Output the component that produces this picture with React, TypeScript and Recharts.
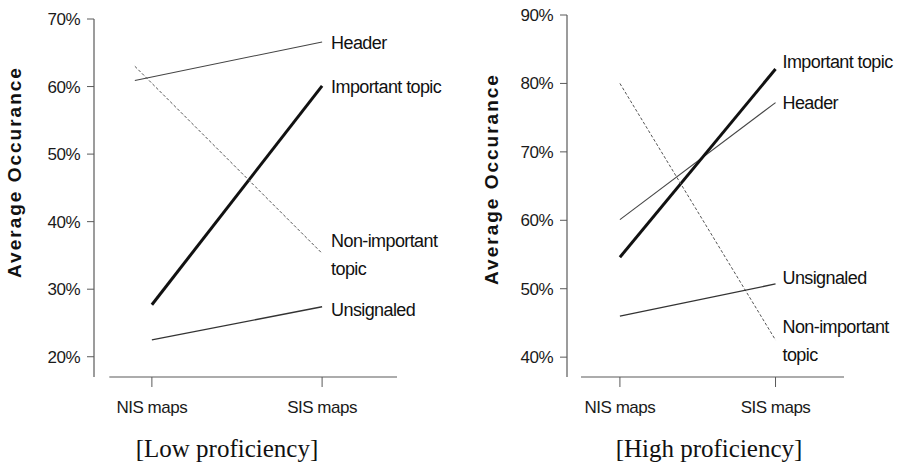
import React from "react";
import { LineChart, Line, XAxis, YAxis, ReferenceLine, LabelList } from "recharts";

const categories = ["NIS maps", "SIS maps"];
const seriesLabels = [["Header"], ["Important topic"], ["Non-important", "topic"], ["Unsignaled"]];

// [Low proficiency] panel, values in %
const lowHeader = [60.9, 66.6];
const lowImportant = [27.7, 60.1];
const lowNonImportant = [63.0, 35.3];
const lowUnsignaled = [22.5, 27.4];
const lowTicks = [20, 30, 40, 50, 60, 70];
// x where each line begins (0 = NIS maps, 1 = SIS maps)
const lowStarts = [-0.1, 0, -0.1, 0];

// [High proficiency] panel
const highHeader = [60.1, 77.2];
const highImportant = [54.6, 82.1];
const highNonImportant = [80.0, 42.5];
const highUnsignaled = [46.0, 50.7];
const highTicks = [40, 50, 60, 70, 80, 90];
const highStarts = [0, 0, 0, 0];

const SANS = '"Liberation Sans", Arial, sans-serif';
const SERIF = '"Liberation Serif", "Times New Roman", serif';
const AXIS = "#5a5a5a";

const lineStyles = [
  { stroke: "#444", width: 1.1, dash: undefined },
  { stroke: "#111", width: 3, dash: undefined },
  { stroke: "#555", width: 1, dash: "3 2" },
  { stroke: "#333", width: 1.3, dash: undefined },
];

function endLabel(props: any, i: number, dx: number, dy: number) {
  if (props.index !== 1) return null;
  const lines = seriesLabels[i];
  const y0 = props.y + dy - ((lines.length - 1) * 28) / 2;
  return (
    <text
      key={`lbl-${i}`}
      x={props.x + dx}
      y={y0}
      fontFamily={SANS}
      fontSize={18}
      letterSpacing={-0.6}
      fill="#111"
    >
      {lines.map((t, k) => (
        <tspan key={k} x={props.x + dx} dy={k === 0 ? "0.35em" : 28}>
          {t}
        </tspan>
      ))}
    </text>
  );
}

function Panel(p: {
  left: number;
  width: number;
  title: string;
  titleX: number;
  yTitleX: number;
  yTitleY: number;
  values: number[][];
  starts: number[];
  ticks: number[];
  domain: [number, number];
  top: number;
  yWidth: number;
  right: number;
  labelDx: number;
  labelDy: number[];
}) {
  const tickFont = { fontFamily: SANS, fontSize: 17, letterSpacing: -0.5, fill: "#1a1a1a" };
  return (
    <div style={{ position: "absolute", left: p.left, top: 0, width: p.width, height: 465 }}>
      <LineChart
        width={p.width}
        height={465}
        margin={{ top: p.top, right: p.right, bottom: 58, left: 0 }}
        style={{ overflow: "visible" }}
      >
        <XAxis
          type="number"
          dataKey="x"
          domain={[-0.34, 1.44]}
          ticks={[0, 1]}
          tickFormatter={(i: number) => categories[i]}
          allowDataOverflow
          axisLine={false}
          tickSize={10}
          tickMargin={14}
          tickLine={{ stroke: AXIS }}
          tick={tickFont}
        />
        <YAxis
          type="number"
          domain={p.domain}
          ticks={p.ticks}
          tickFormatter={(v: number) => `${v}%`}
          allowDataOverflow
          width={p.yWidth}
          tickSize={7}
          tickMargin={7}
          axisLine={{ stroke: AXIS, strokeWidth: 1.2 }}
          tickLine={{ stroke: AXIS }}
          tick={tickFont}
        />
        <ReferenceLine
          segment={[
            { x: -0.25, y: p.domain[0] },
            { x: 1.44, y: p.domain[0] },
          ]}
          stroke={AXIS}
          strokeWidth={1.2}
          ifOverflow="visible"
        />
        {p.values.map((vals, i) => (
          <Line
            key={i}
            data={vals.map((v, j) => ({ x: j === 0 ? p.starts[i] : 1, v }))}
            dataKey="v"
            stroke={lineStyles[i].stroke}
            strokeWidth={lineStyles[i].width}
            strokeDasharray={lineStyles[i].dash}
            dot={false}
            activeDot={false}
            isAnimationActive={false}
          >
            <LabelList dataKey="v" content={(lp: any) => endLabel(lp, i, p.labelDx, p.labelDy[i])} />
          </Line>
        ))}
      </LineChart>
      <div
        style={{
          position: "absolute",
          left: p.yTitleX - 120 - p.left,
          top: p.yTitleY - 12,
          width: 240,
          height: 24,
          lineHeight: "24px",
          textAlign: "center",
          transform: "rotate(-90deg)",
          fontFamily: SANS,
          fontWeight: "bold",
          fontSize: 19,
          letterSpacing: 2,
          color: "#111",
          whiteSpace: "nowrap",
        }}
      >
        Average Occurance
      </div>
      <div
        style={{
          position: "absolute",
          left: p.titleX - 150 - p.left,
          top: 437,
          width: 300,
          lineHeight: "24px",
          textAlign: "center",
          fontFamily: SERIF,
          fontSize: 25,
          color: "#111",
          whiteSpace: "nowrap",
        }}
      >
        {p.title}
      </div>
    </div>
  );
}

export default function App() {
  return (
    <div style={{ position: "absolute", left: 0, top: 0, width: 897, height: 465, background: "#fff" }}>
      <Panel
        left={0}
        width={450}
        title="[Low proficiency]"
        titleX={227}
        yTitleX={15}
        yTitleY={172}
        values={[lowHeader, lowImportant, lowNonImportant, lowUnsignaled]}
        starts={lowStarts}
        ticks={lowTicks}
        domain={[17, 70]}
        top={19}
        yWidth={94}
        right={53}
        labelDx={9}
        labelDy={[1, 1, 1, 3]}
      />
      <Panel
        left={450}
        width={447}
        title="[High proficiency]"
        titleX={709}
        yTitleX={492}
        yTitleY={179}
        values={[highHeader, highImportant, highNonImportant, highUnsignaled]}
        starts={highStarts}
        ticks={highTicks}
        domain={[37.1, 90]}
        top={15}
        yWidth={117}
        right={53}
        labelDx={7}
        labelDy={[0, -7, 1, -6]}
      />
    </div>
  );
}
